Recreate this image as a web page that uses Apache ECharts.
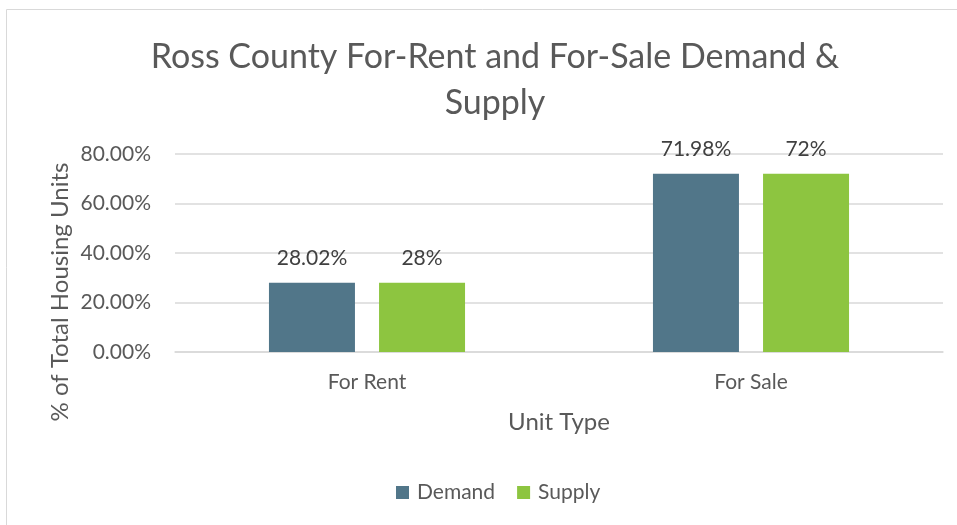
<!DOCTYPE html>
<html>
<head>
<meta charset="utf-8">
<script src="https://cdn.jsdelivr.net/npm/echarts@6/dist/echarts.min.js"></script>
<style>
  html, body { margin: 0; padding: 0; background: #fff; }
  #chart { width: 957px; height: 525px; }
</style>
</head>
<body>
<div id="chart"></div>
<script>
// Unit types on the x axis
const categories = ['For Rent', 'For Sale'];
// Share of total housing units, percent
const demandValues = [28.02, 71.98];
const supplyValues = [28, 72];
// Value axis ticks (percent)
const yTicks = [0, 20, 40, 60, 80];

const FONT = 'Lato, "Noto Sans", sans-serif';
const TEXT = '#595959';

const chart = echarts.init(document.getElementById('chart'));

chart.setOption({
  animation: false,
  textStyle: { fontFamily: FONT },
  title: {
    text: 'Ross County For-Rent and For-Sale Demand &\nSupply',
    left: 490,
    top: 29,
    textAlign: 'center',
    textStyle: { fontFamily: FONT, fontSize: 34, fontWeight: 'normal', color: TEXT, lineHeight: 46 }
  },
  legend: {
    bottom: 17,
    left: 391,
    itemWidth: 13,
    itemHeight: 13,
    itemGap: 22,
    icon: 'rect',
    textStyle: { fontFamily: FONT, fontSize: 21, color: TEXT, padding: [0, 0, 0, 3] },
    data: ['Demand', 'Supply']
  },
  grid: { left: 175, right: 14, top: 154, bottom: 173, containLabel: false },
  xAxis: {
    type: 'category',
    data: categories,
    axisLine: { lineStyle: { color: '#d9d9d9', width: 1.5 } },
    axisTick: { show: false },
    axisLabel: { fontFamily: FONT, fontSize: 21, color: TEXT, margin: 20 },
    name: 'Unit Type',
    nameLocation: 'middle',
    nameGap: 58,
    nameTextStyle: { fontFamily: FONT, fontSize: 24, color: TEXT }
  },
  yAxis: {
    type: 'value',
    min: yTicks[0],
    max: yTicks[yTicks.length - 1],
    interval: yTicks[1] - yTicks[0],
    axisLine: { show: false },
    axisTick: { show: false },
    splitLine: { lineStyle: { color: '#d9d9d9', width: 1.5 } },
    axisLabel: {
      fontFamily: FONT, fontSize: 21, color: TEXT, margin: 24,
      formatter: v => v.toFixed(2) + '%'
    }
  },
  graphic: [
    {
      type: 'rect',
      shape: { x: 6.5, y: 9.5, width: 1000, height: 600 },
      style: { fill: 'none', stroke: '#d9d9d9', lineWidth: 1 },
      silent: true,
      z: -1
    },
    {
      type: 'text',
      x: 60,
      y: 292,
      rotation: Math.PI / 2,
      style: {
        text: '% of Total Housing Units',
        fontFamily: FONT, fontSize: 24, fill: TEXT,
        align: 'center', verticalAlign: 'middle'
      }
    }
  ],
  series: [
    {
      name: 'Demand',
      type: 'bar',
      data: demandValues,
      barWidth: 86,
      barGap: '28%',
      itemStyle: { color: '#517689' },
      label: {
        show: true, position: 'top', distance: 14,
        fontFamily: FONT, fontSize: 21, color: '#404040',
        formatter: p => p.value + '%'
      }
    },
    {
      name: 'Supply',
      type: 'bar',
      data: supplyValues,
      barWidth: 86,
      itemStyle: { color: '#8dc540' },
      label: {
        show: true, position: 'top', distance: 14,
        fontFamily: FONT, fontSize: 21, color: '#404040',
        formatter: p => p.value + '%'
      }
    }
  ]
});
</script>
</body>
</html>
